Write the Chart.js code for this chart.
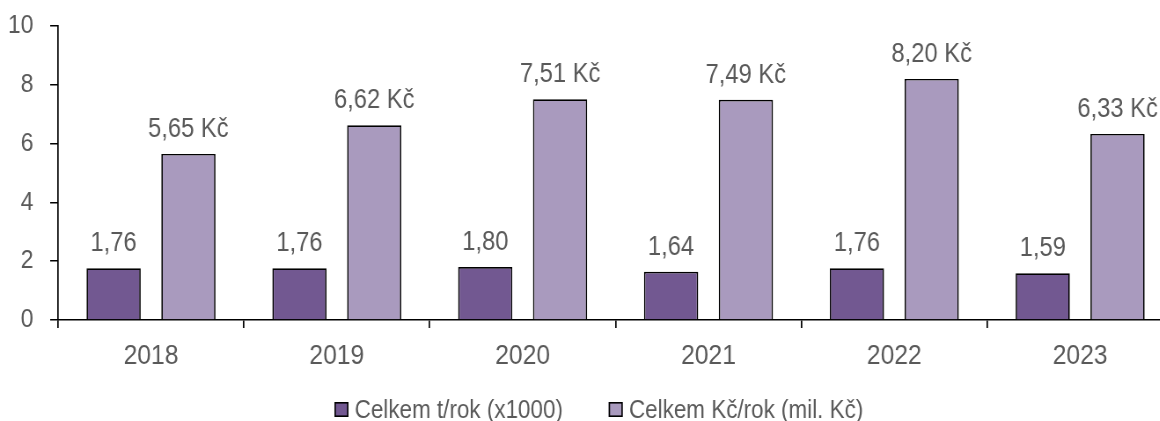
<!DOCTYPE html>
<html lang="cs">
<head>
<meta charset="utf-8">
<title>Celkem t/rok a Kč/rok</title>
<script src="https://cdn.jsdelivr.net/npm/chart.js@4/dist/chart.umd.min.js"></script>
<style>
  html, body { margin: 0; padding: 0; background: #fff; overflow: hidden; }
  #wrap { width: 1160px; height: 421px; overflow: hidden; }
  /* užší písmo: celé plátno je vodorovně stažené */
  #c { transform: scaleX(0.88); transform-origin: 0 0; }
</style>
</head>
<body>
<div id="wrap"><canvas id="c" width="1361" height="421"></canvas></div>
<script>
// Roky a hodnoty obou řad
const years = ['2018', '2019', '2020', '2021', '2022', '2023'];
const tonnes = [1.76, 1.76, 1.80, 1.64, 1.76, 1.59];       // Celkem t/rok (x1000)
const costs = [5.65, 6.62, 7.51, 7.49, 8.20, 6.33];        // Celkem Kč/rok (mil. Kč)
const seriesNames = ['Celkem t/rok (x1000)', 'Celkem Kč/rok (mil. Kč)'];
const seriesColors = ['#725891', '#a99abe'];
const valueSuffix = ['', ' Kč'];
const yTicks = [0, 2, 4, 6, 8, 10];

const FONT = '"Liberation Sans", Arial, sans-serif';
const TEXT = '#595959';

// Popisky hodnot nad sloupci
const valueLabels = {
  id: 'valueLabels',
  afterDatasetsDraw(chart) {
    const ctx = chart.ctx;
    ctx.save();
    ctx.font = '27px ' + FONT;
    ctx.fillStyle = TEXT;
    ctx.textAlign = 'center';
    ctx.textBaseline = 'alphabetic';
    chart.data.datasets.forEach((ds, i) => {
      chart.getDatasetMeta(i).data.forEach((bar, j) => {
        const txt = ds.data[j].toFixed(2).replace('.', ',') + valueSuffix[i];
        ctx.fillText(txt, bar.x, bar.y - 17);
      });
    });
    ctx.restore();
  }
};

// Legenda pod osou: čtvereček s rámečkem a název řady
const bottomLegend = {
  id: 'bottomLegend',
  afterDraw(chart) {
    const ctx = chart.ctx;
    const boxW = 16, boxH = 15, gap = 7, spacing = 52, cy = 409.5;
    ctx.save();
    ctx.font = '25.5px ' + FONT;
    const items = chart.data.datasets.map(ds => ({
      text: ds.label, color: ds.backgroundColor, w: ctx.measureText(ds.label).width
    }));
    const total = items.reduce((s, it) => s + boxW + gap + it.w, 0) + spacing * (items.length - 1);
    let x = chart.width / 2 - total / 2;
    items.forEach(it => {
      ctx.fillStyle = it.color;
      ctx.fillRect(x, cy - boxH / 2, boxW, boxH);
      ctx.strokeStyle = '#000';
      ctx.lineWidth = 1.6;
      ctx.strokeRect(x + 0.8, cy - boxH / 2 + 0.8, boxW - 1.6, boxH - 1.6);
      ctx.fillStyle = TEXT;
      ctx.textAlign = 'left';
      ctx.textBaseline = 'middle';
      ctx.fillText(it.text, x + boxW + gap, cy + 1);
      x += boxW + gap + it.w + spacing;
    });
    ctx.restore();
  }
};

new Chart(document.getElementById('c'), {
  type: 'bar',
  data: {
    labels: years,
    datasets: [
      { label: seriesNames[0], data: tonnes, backgroundColor: seriesColors[0], borderColor: '#000', borderWidth: 1.7 },
      { label: seriesNames[1], data: costs, backgroundColor: seriesColors[1], borderColor: '#000', borderWidth: 1.7 }
    ]
  },
  options: {
    responsive: false,
    animation: false,
    layout: { padding: { top: 26, right: 28, bottom: 51, left: 0 } },
    datasets: { bar: { categoryPercentage: 0.805, barPercentage: 0.725 } },
    plugins: {
      tooltip: { enabled: false },
      legend: { display: false }
    },
    scales: {
      x: {
        afterFit(scale) { scale.height = 50; },
        grid: { drawOnChartArea: false, drawTicks: true, tickLength: 8, color: '#000', lineWidth: 1.7 },
        border: { display: true, color: '#000', width: 1.6 },
        ticks: { color: TEXT, padding: 11, font: { family: FONT, size: 28 } }
      },
      y: {
        min: 0, max: 10,
        afterFit(scale) {
          scale.width = 66;
          // okraj nahoře a dole řídí layout.padding
          scale.paddingTop = 0;
          scale.paddingBottom = 0;
        },
        afterBuildTicks(scale) { scale.ticks = yTicks.map(v => ({ value: v })); },
        grid: { drawOnChartArea: false, drawTicks: true, tickLength: 9, color: '#000', lineWidth: 1.5 },
        border: { display: true, color: '#000', width: 1.7 },
        ticks: { color: TEXT, padding: 19, font: { family: FONT, size: 26 } }
      }
    }
  },
  plugins: [valueLabels, bottomLegend]
});
</script>
</body>
</html>
